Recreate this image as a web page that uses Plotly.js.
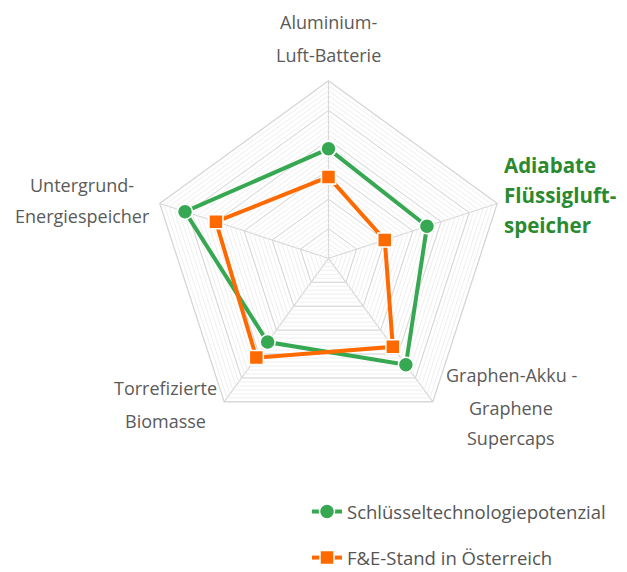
<!DOCTYPE html>
<html>
<head>
<meta charset="utf-8">
<script src="https://cdn.plot.ly/plotly-3.0.1.min.js"></script>
<style>html,body{margin:0;padding:0;background:#fff;}#chart{width:627px;height:572px;}</style>
</head>
<body>
<div id="chart"></div>
<script>
// Categories (clockwise from top)
const categories = ["Aluminium-Luft-Batterie", "Adiabate Flüssigluftspeicher", "Graphen-Akku - Graphene Supercaps", "Torrefizierte Biomasse", "Untergrund-Energiespeicher"];
const seriesNames = ["Schlüsseltechnologiepotenzial", "F&E-Stand in Österreich"];
const potenzial = [3.7, 3.5, 4.45, 3.5, 5.1];
const fueStand = [2.75, 2.0, 3.7, 4.15, 4.0];
const ringLevels = [1, 2, 3, 4, 5, 6];
const radialMax = 6;

const closeLoop = a => a.concat([a[0]]);
const thetaClosed = closeLoop(categories);

const traces = [];
ringLevels.forEach(lv => {
  traces.push({
    type: "scatterpolar", mode: "lines",
    r: thetaClosed.map(() => lv), theta: thetaClosed,
    line: {color: "#d6d6d6", width: 1},
    hoverinfo: "skip", showlegend: false
  });
});
traces.push({
  type: "scatterpolar", mode: "lines+markers", name: seriesNames[0],
  r: closeLoop(potenzial), theta: thetaClosed,
  line: {color: "#36a852", width: 4},
  marker: {symbol: "circle", size: 15, color: "#36a852", line: {color: "#ffffff", width: 1.5}},
  legendgroup: "a"
});
traces.push({
  type: "scatterpolar", mode: "lines+markers", name: seriesNames[1],
  r: closeLoop(fueStand), theta: thetaClosed,
  line: {color: "#ff6a00", width: 4},
  marker: {symbol: "square", size: 14, color: "#ff6a00", line: {color: "#ffffff", width: 1.5}},
  legendgroup: "b"
});

const FAM = "'Open Sans', Lato, sans-serif";
const labelFont = {family: FAM, size: 18, color: "#5a5a5a"};
const boldFont = {family: FAM, size: 20.5, color: "#2b8a2f"};
function ann(text, x, y, font, xanchor) {
  return {text: text, x: x / 627, y: 1 - y / 572, xref: "paper", yref: "paper",
          xanchor: xanchor || "center", yanchor: "middle", showarrow: false, font: font};
}
const annotations = [
  ann("Aluminium-", 328, 22, labelFont),
  ann("Luft-Batterie", 328, 55, labelFont),
  ann("<b>Adiabate</b>", 502, 165, boldFont, "left"),
  ann("<b>Flüssigluft-</b>", 502, 195, boldFont, "left"),
  ann("<b>speicher</b>", 502, 225, boldFont, "left"),
  ann("Untergrund-", 82, 185, labelFont),
  ann("Energiespeicher", 83, 216, labelFont),
  ann("Torrefizierte", 166, 388, labelFont),
  ann("Biomasse", 166, 421, labelFont),
  ann("Graphen-Akku -", 511, 375, labelFont),
  ann("Graphene", 511, 408, labelFont),
  ann("Supercaps", 511, 438, labelFont)
];

const cx = 328.5, cy = 258.3, R = 177.5, W = 627, H = 572;
const layout = {
  width: W, height: H,
  margin: {l: 0, r: 0, t: 0, b: 0, autoexpand: false},
  paper_bgcolor: "#ffffff",
  showlegend: true,
  legend: {x: 307 / W, y: 1 - 493 / H, xanchor: "left", yanchor: "top",
           font: {family: FAM, size: 18.5, color: "#555555"},
           tracegroupgap: 19, traceorder: "grouped", bgcolor: "rgba(0,0,0,0)"},
  polar: {
    domain: {x: [(cx - R) / W, (cx + R) / W], y: [(H - cy - R) / H, (H - cy + R) / H]},
    gridshape: "linear",
    bgcolor: "#ffffff",
    radialaxis: {range: [0, radialMax], dtick: 1 / 6, showticklabels: false, ticks: "",
                 showline: false, gridcolor: "#efefef", gridwidth: 1},
    angularaxis: {direction: "clockwise", rotation: 90, showticklabels: false, ticks: "",
                  showline: true, linecolor: "#d6d6d6", linewidth: 1.2, gridcolor: "#d6d6d6", gridwidth: 1.2}
  },
  annotations: annotations
};
Plotly.newPlot("chart", traces, layout, {displayModeBar: false, staticPlot: true});
</script>
</body>
</html>
